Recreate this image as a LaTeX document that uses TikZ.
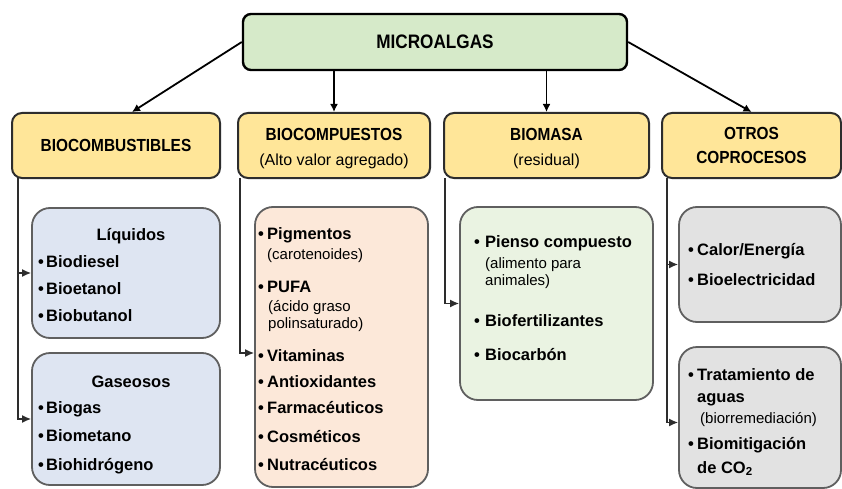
\documentclass[tikz,border=0pt]{standalone}
\usepackage{fontspec}
\setmainfont{Liberation Sans}
\newfontfamily\narrowfont[FakeStretch=0.88]{Liberation Sans}
\usetikzlibrary{arrows.meta,calc}
\definecolor{microfill}{RGB}{214,234,201}
\definecolor{yel}{RGB}{255,230,153}
\definecolor{bluef}{RGB}{222,229,242}
\definecolor{peachf}{RGB}{252,232,217}
\definecolor{greenf}{RGB}{234,243,226}
\definecolor{greyf}{RGB}{226,226,226}
\definecolor{bordA}{RGB}{45,45,45}
\definecolor{bordB}{RGB}{95,95,95}
\newcommand\bl[1]{\makebox[#1][l]{\textbullet}}
\begin{document}
\begin{tikzpicture}[x=1pt,y=-1pt,
  topbox/.style={draw=black,line width=2.4pt,fill=microfill,rounded corners=8pt,inner sep=0pt},
  catbox/.style={draw=bordA,line width=2pt,fill=yel,rounded corners=10pt,inner sep=0pt},
  subbox/.style={draw=bordB,line width=1.8pt,rounded corners=18pt,inner sep=0pt},
  arrt/.style={line width=1.8pt,-{Latex[length=8pt,width=8pt]}},
  arrs/.style={draw=bordA,line width=1.4pt,-{Latex[length=9pt,width=8pt]}},
  cat/.style={font=\narrowfont\bfseries\fontsize{17.5}{20}\selectfont,anchor=base,inner sep=0pt},
  catsub/.style={font=\fontsize{16}{19}\selectfont,anchor=base,inner sep=0pt},
  itm/.style={font=\bfseries\fontsize{16.5}{19}\selectfont,anchor=base west,inner sep=0pt},
  ttl/.style={font=\bfseries\fontsize{16.5}{19}\selectfont,anchor=base,inner sep=0pt},
  par/.style={font=\fontsize{15}{18}\selectfont,anchor=base west,inner sep=0pt}
]
\useasboundingbox[fill=white] (0,0) rectangle (842,489);

% main box
\node[topbox,minimum width=384pt,minimum height=56pt] (micro) at (435,42) {};
\node[font=\narrowfont\bfseries\fontsize{19.5}{22}\selectfont,inner sep=0pt] (microt) at (435,42) {MICROALGAS};

% category boxes
\node[catbox,minimum width=208pt,minimum height=65pt] (bio1) at (116,145.5) {};
\node[catbox,minimum width=192pt,minimum height=65pt] (bio2) at (334,145.5) {};
\node[catbox,minimum width=205pt,minimum height=65pt] (bio3) at (546.5,145.5) {};
\node[catbox,minimum width=179pt,minimum height=65pt] (bio4) at (751.5,145.5) {};

\node[cat] (c1t) at (116,152) {BIOCOMBUSTIBLES};
\node[cat] (c2t) at (334,141) {BIOCOMPUESTOS};
\node[catsub] (c2s) at (334,165) {(Alto valor agregado)};
\node[cat] (c3t) at (546.5,141) {BIOMASA};
\node[catsub] (c3s) at (546.5,165) {(residual)};
\node[cat] (c4t) at (751.5,140) {OTROS};
\node[cat] (c4s) at (751.5,164) {COPROCESOS};

% top arrows
\draw[arrt] (micro.west) -- ($(bio1.north)+(16,0)$);
\draw[arrt] (micro.south -| bio2.north) -- (bio2.north);
\draw[arrt] (micro.south -| bio3.north) -- (bio3.north);
\draw[arrt] (micro.east) -- (bio4.north);

% sub boxes
\node[subbox,fill=bluef,minimum width=188pt,minimum height=130pt] (liq) at (126,273) {};
\node[subbox,fill=bluef,minimum width=188pt,minimum height=132pt] (gas) at (126,419) {};
\node[subbox,fill=peachf,minimum width=173pt,minimum height=280pt] (peach) at (341.5,347) {};
\node[subbox,fill=greenf,minimum width=193pt,minimum height=193pt] (grn) at (556.5,303.5) {};
\node[subbox,fill=greyf,minimum width=162pt,minimum height=115pt] (gr1) at (760,264.5) {};
\node[subbox,fill=greyf,minimum width=162pt,minimum height=141pt] (gr2) at (760,417.5) {};

% connectors
\coordinate (t1) at (18,178);
\coordinate (t2) at (240,178);
\coordinate (t3) at (445,178);
\coordinate (t4) at (667,178);
\draw[arrs] (t1) |- (liq.west);
\draw[arrs] (t1) |- (gas.west);
\draw[arrs] (t2) |- ($(peach.west)+(0,6)$);
\draw[arrs] (t3) |- (grn.west);
\draw[arrs] (t4) |- (gr1.west);
\draw[arrs] (t4) |- ($(gr2.west)+(0,5)$);

% Liquidos
\node[ttl] (l0) at (131,240) {Líquidos};
\node[itm] (l1) at (38,267) {\bl{8pt}Biodiesel};
\node[itm] (l2) at (38,294) {\bl{8pt}Bioetanol};
\node[itm] (l3) at (38,321) {\bl{8pt}Biobutanol};
% Gaseosos
\node[ttl] (g0) at (131,387) {Gaseosos};
\node[itm] (g1) at (38,413) {\bl{8pt}Biogas};
\node[itm] (g2) at (38,441) {\bl{8pt}Biometano};
\node[itm] (g3) at (38,470) {\bl{8pt}Biohidrógeno};

% Biocompuestos
\node[itm] (p1) at (258,239) {\bl{9pt}Pigmentos};
\node[par] (p1s) at (267,259) {(carotenoides)};
\node[itm] (p2) at (258,292) {\bl{9pt}PUFA};
\node[par] (p2s) at (268,311) {(ácido graso};
\node[par] (p2t) at (268,328) {polinsaturado)};
\node[itm] (p3) at (258,361) {\bl{9pt}Vitaminas};
\node[itm] (p4) at (258,387) {\bl{9pt}Antioxidantes};
\node[itm] (p5) at (258,413) {\bl{9pt}Farmacéuticos};
\node[itm] (p6) at (258,442) {\bl{9pt}Cosméticos};
\node[itm] (p7) at (258,470) {\bl{9pt}Nutracéuticos};

% Biomasa
\node[itm] (b1) at (474,247) {\bl{11pt}Pienso compuesto};
\node[par] (b1s) at (485,268) {(alimento para};
\node[par] (b1t) at (485,285) {animales)};
\node[itm] (b2) at (474,326) {\bl{11pt}Biofertilizantes};
\node[itm] (b3) at (474,360) {\bl{11pt}Biocarbón};

% Otros
\node[itm] (o1) at (688,255) {\bl{9pt}Calor/Energía};
\node[itm] (o2) at (688,285) {\bl{9pt}Bioelectricidad};
\node[itm] (o3) at (688,380) {\bl{9pt}Tratamiento de};
\node[itm] (o3b) at (697,402) {aguas};
\node[par] (o3s) at (700,423) {(biorremediación)};
\node[itm] (o4) at (688,449) {\bl{9pt}Biomitigación};
\node[itm] (o4b) at (697,473) {de CO\textsubscript{2}};
\end{tikzpicture}
\end{document}
